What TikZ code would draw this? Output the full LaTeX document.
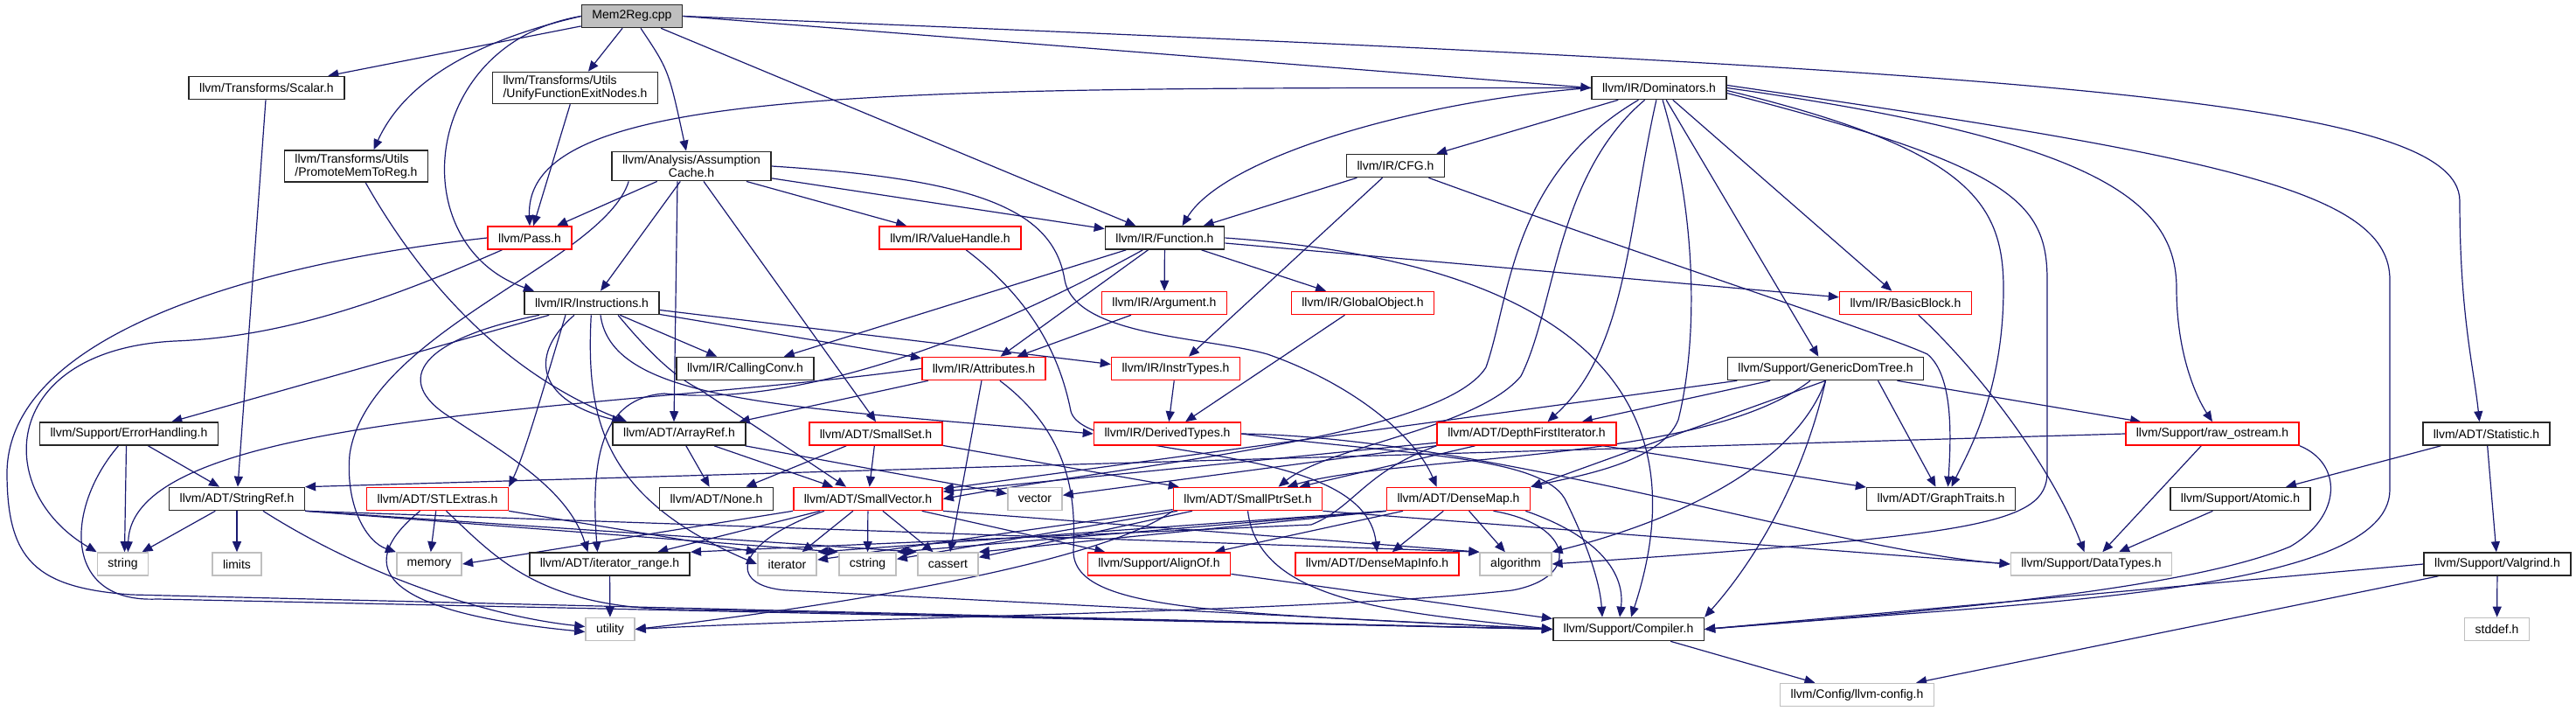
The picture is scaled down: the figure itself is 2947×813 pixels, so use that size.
\documentclass[tikz,border=0pt]{standalone}
\usepackage{fontspec}
\setmainfont{Liberation Sans}
\usetikzlibrary{arrows.meta}
\definecolor{edgeblue}{RGB}{25,25,112}
\definecolor{greyframe}{RGB}{191,191,191}
\pgfdeclarelayer{edges}
\pgfsetlayers{edges,main}

\begin{document}
\begin{tikzpicture}[x=1pt, y=-1pt, >={Triangle[length=12pt,width=10pt]},
    hdr/.style={draw=black!85, line width=1.6pt, fill=white, minimum height=26pt,
      inner xsep=12pt, inner ysep=4pt, font=\fontsize{14}{15}\selectfont},
    redhdr/.style={hdr, draw=red},
    syshdr/.style={hdr, draw=greyframe},
    srcfile/.style={hdr, fill=black!25},
    dep/.style={->, draw=edgeblue, line width=1.2pt}]
    \useasboundingbox (0,0) rectangle (2947,813);

    \node[srcfile] (mem2reg) at (723,18.5) {Mem2Reg.cpp};
    \node[hdr] (scalar) at (305,100.5) {llvm/Transforms/Scalar.h};
    \node[hdr, align=left] (unify) at (658,100.5) {llvm/Transforms/Utils\\/UnifyFunctionExitNodes.h};
    \node[hdr, align=left] (promote) at (407.5,190) {llvm/Transforms/Utils\\/PromoteMemToReg.h};
    \node[hdr, align=center] (assump) at (791,190) {llvm/Analysis/Assumption\\Cache.h};
    \node[redhdr] (pass) at (606,272) {llvm/Pass.h};
    \node[redhdr] (valuehandle) at (1087,272) {llvm/IR/ValueHandle.h};
    \node[hdr] (function) at (1332.5,272) {llvm/IR/Function.h};
    \node[hdr] (dominators) at (1898,100.5) {llvm/IR/Dominators.h};
    \node[hdr] (cfg) at (1596.5,189.5) {llvm/IR/CFG.h};
    \node[hdr] (statistic) at (2844.5,496) {llvm/ADT/Statistic.h};
    \node[hdr] (instructions) at (677,346.5) {llvm/IR/Instructions.h};
    \node[hdr] (errorhandling) at (147.5,496) {llvm/Support/ErrorHandling.h};
    \node[hdr] (arrayref) at (777,496) {llvm/ADT/ArrayRef.h};
    \node[redhdr] (argument) at (1332,346.5) {llvm/IR/Argument.h};
    \node[hdr] (callingconv) at (852.5,421.5) {llvm/IR/CallingConv.h};
    \node[redhdr] (attributes) at (1125.5,421.5) {llvm/IR/Attributes.h};
    \node[redhdr] (instrtypes) at (1345,421.5) {llvm/IR/InstrTypes.h};
    \node[redhdr] (smallset) at (1002,496) {llvm/ADT/SmallSet.h};
    \node[redhdr] (derivedtypes) at (1335.5,496) {llvm/IR/DerivedTypes.h};
    \node[redhdr] (globalobject) at (1559,346.5) {llvm/IR/GlobalObject.h};
    \node[redhdr] (basicblock) at (2180,346.5) {llvm/IR/BasicBlock.h};
    \node[hdr] (genericdomtree) at (2088.5,421.5) {llvm/Support/GenericDomTree.h};
    \node[redhdr] (depthfirst) at (1746.5,496) {llvm/ADT/DepthFirstIterator.h};
    \node[redhdr] (rawostream) at (2531,496) {llvm/Support/raw\_ostream.h};
    \node[hdr] (stringref) at (271,570.5) {llvm/ADT/StringRef.h};
    \node[redhdr] (stlextras) at (500.5,570.5) {llvm/ADT/STLExtras.h};
    \node[syshdr] (string) at (140.5,645) {string};
    \node[syshdr] (limits) at (271,645) {limits};
    \node[syshdr] (memory) at (491,645) {memory};
    \node[hdr] (iteratorrange) at (697.5,645) {llvm/ADT/iterator\_range.h};
    \node[syshdr] (utility) at (698,719.5) {utility};
    \node[hdr] (none) at (819.5,570.5) {llvm/ADT/None.h};
    \node[redhdr] (smallvector) at (993,570.5) {llvm/ADT/SmallVector.h};
    \node[syshdr] (vector) at (1184,570.5) {vector};
    \node[redhdr] (smallptrset) at (1427.5,570.5) {llvm/ADT/SmallPtrSet.h};
    \node[syshdr] (iterator) at (900.5,645) {iterator};
    \node[syshdr] (cstring) at (992.5,645) {cstring};
    \node[syshdr] (cassert) at (1084.5,645) {cassert};
    \node[redhdr] (alignof) at (1326,645) {llvm/Support/AlignOf.h};
    \node[redhdr] (densemap) at (1668.5,570.5) {llvm/ADT/DenseMap.h};
    \node[redhdr] (densemapinfo) at (1575.5,645) {llvm/ADT/DenseMapInfo.h};
    \node[syshdr] (algorithm) at (1734,645) {algorithm};
    \node[hdr] (compiler) at (1863,719.5) {llvm/Support/Compiler.h};
    \node[syshdr] (llvmconfig) at (2124.5,794.5) {llvm/Config/llvm-config.h};
    \node[hdr] (graphtraits) at (2220.5,570.5) {llvm/ADT/GraphTraits.h};
    \node[syshdr] (datatypes) at (2392.5,645) {llvm/Support/DataTypes.h};
    \node[hdr] (atomic) at (2563,570.5) {llvm/Support/Atomic.h};
    \node[hdr] (valgrind) at (2857,645) {llvm/Support/Valgrind.h};
    \node[syshdr] (stddef) at (2856.5,719.5) {stddef.h};

    \begin{pgfonlayer}{edges}
    \draw[dep] (mem2reg) -- (scalar);
    \draw[dep] (mem2reg) -- (unify);
    \draw[dep] (mem2reg.west) .. controls (530,50) and (460,100) .. ([xshift=20pt]promote.north);
    \draw[dep] ([xshift=10pt]mem2reg.south) .. controls (765,80) .. ([xshift=-6pt]assump.north);
    \draw[dep] (mem2reg.west) .. controls (480,50) and (460,280) .. ([xshift=-66pt]instructions.north);
    \draw[dep] (mem2reg) -- (function);
    \draw[dep] (mem2reg.east) -- (dominators.west);
    \draw[dep] (mem2reg.east) .. controls (2300,80) and (2814,110) .. (2814,230) .. controls (2814,360) and (2830,420) .. ([xshift=-8pt]statistic.north);

    \draw[dep] (scalar) -- (stringref);
    \draw[dep] (unify) -- (pass);
    \draw[dep] (promote) .. controls (470,300) and (560,420) .. ([xshift=-60pt]arrayref.north);

    \draw[dep] (assump) -- (pass);
    \draw[dep] (assump) -- (instructions);
    \draw[dep] ([xshift=-16pt]assump.south) -- ([xshift=-6pt]arrayref.north);
    \draw[dep] ([xshift=14pt]assump.south) -- (smallset.north);
    \draw[dep] (assump) -- (valuehandle);
    \draw[dep] (assump) -- (function);
    \draw[dep] ([xshift=20pt]assump.south west) .. controls (690,300) and (420,380) .. (400,520) .. controls (395,580) and (420,620) .. (memory.north west);
    \draw[dep] (assump.east) .. controls (1120,205) and (1205,240) .. (1218,320) .. controls (1230,385) and (1380,385) .. (1450,405) .. controls (1550,440) and (1620,500) .. ([xshift=-25pt]densemap.north);

    \draw[dep] (pass) .. controls (450,340) and (330,385) .. (200,390) .. controls (0,400) and (-10,560) .. (string.north west);
    \draw[dep] (pass.west) .. controls (300,300) and (10,380) .. (8,540) .. controls (8,640) and (40,672) .. (150,680) -- (compiler.west);

    \draw[dep] (valuehandle) .. controls (1190,350) and (1215,420) .. (1225,470) .. controls (1240,530) and (1560,500) .. (densemapinfo.north);

    \draw[dep] (function) -- (argument);
    \draw[dep] (function) -- (globalobject);
    \draw[dep] (function) -- (basicblock);
    \draw[dep] (function) -- (callingconv);
    \draw[dep] (function) -- (attributes);
    \draw[dep] (function) .. controls (1100,400) and (900,465) .. (760,450) .. controls (690,455) and (675,520) .. ([xshift=-14pt]iteratorrange.north);
    \draw[dep] (function.east) .. controls (1800,300) and (1950,450) .. ([xshift=3pt]compiler.north);

    \draw[dep] (argument) -- (attributes);
    \draw[dep] (globalobject) -- (derivedtypes);
    \draw[dep] (instrtypes) -- (derivedtypes);

    \draw[dep] (attributes) -- ([xshift=-8pt]arrayref.north east);
    \draw[dep] (attributes.west) .. controls (700,470) and (150,470) .. ([xshift=6pt]string.north);
    \draw[dep] (attributes) -- (cassert);
    \draw[dep] (attributes) .. controls (1230,500) and (1230,580) .. (1228,630) .. controls (1228,700) and (1400,700) .. (compiler.west);

    \draw[dep] (instructions) -- (errorhandling);
    \draw[dep] ([xshift=-20pt]instructions.south) .. controls (600,410) and (620,460) .. ([xshift=-65pt]arrayref.north);
    \draw[dep] (instructions) -- (callingconv);
    \draw[dep] (instructions) -- (attributes);
    \draw[dep] ([yshift=-8pt]instructions.east) -- ([yshift=5pt]instrtypes.west);
    \draw[dep] ([xshift=10pt]instructions.south) .. controls (700,460) and (900,465) .. (derivedtypes.west);
    \draw[dep] ([xshift=30pt]instructions.south) .. controls (740,400) and (770,430) .. (800,445) -- ([xshift=-25pt]smallvector.north);
    \draw[dep] (instructions) .. controls (670,480) and (690,570) .. (iterator.west);
    \draw[dep] ([xshift=-30pt]instructions.south) .. controls (620,450) and (600,520) .. (stlextras.north east);
    \draw[dep] ([xshift=-60pt]instructions.south) .. controls (470,390) and (450,440) .. (520,480) .. controls (580,520) and (650,560) .. ([xshift=-25pt]iteratorrange.north);

    \draw[dep] ([xshift=22pt]errorhandling.south) -- ([xshift=-20pt]stringref.north);
    \draw[dep] ([xshift=-3pt]errorhandling.south) -- ([xshift=2pt]string.north);
    \draw[dep] ([xshift=-12pt]errorhandling.south) .. controls (75,580) and (70,690) .. (180,685) -- (compiler.west);

    \draw[dep] (stringref) -- ([xshift=22pt]string.north);
    \draw[dep] (stringref) -- (limits);
    \draw[dep] ([xshift=30pt]stringref.south) .. controls (420,660) and (560,705) .. ([yshift=3pt]utility.west);
    \draw[dep] (stringref.south east) -- (cstring.north west);
    \draw[dep] (stringref.south east) -- (cassert.north west);
    \draw[dep] (stringref.south east) -- (algorithm.north west);

    \draw[dep] (stlextras) -- (memory);
    \draw[dep] ([xshift=-20pt]stlextras.south) .. controls (400,650) and (440,700) .. ([yshift=-3pt]utility.west);
    \draw[dep] (stlextras.south east) -- (iterator.north west);
    \draw[dep] ([xshift=10pt]stlextras.south) .. controls (570,640) and (620,700) .. (800,697) -- (compiler.west);
    \draw[dep] (iteratorrange) -- (utility);

    \draw[dep] (arrayref) -- (none);
    \draw[dep] (arrayref) -- (smallvector);
    \draw[dep] (arrayref) -- (vector);
    \draw[dep] (smallset) -- (none);
    \draw[dep] (smallset) -- (smallvector);
    \draw[dep] (smallset) -- (smallptrset);

    \draw[dep] (smallvector.south west) -- (memory.east);
    \draw[dep] (smallvector) -- (iteratorrange);
    \draw[dep] (smallvector) -- (iterator);
    \draw[dep] (smallvector) -- (cstring);
    \draw[dep] (smallvector) -- (cassert);
    \draw[dep] (smallvector) -- (alignof);
    \draw[dep] (smallvector.south east) -- (algorithm.north west);
    \draw[dep] ([xshift=-50pt]smallvector.south) .. controls (840,620) and (830,670) .. (900,675) -- (compiler.west);

    \draw[dep] (smallptrset.south) .. controls (1440,690) and (1600,700) .. (compiler.west);
    \draw[dep] (smallptrset.south east) -- (datatypes.west);
    \draw[dep] (smallptrset) -- (iterator);
    \draw[dep] (smallptrset) -- (cstring);
    \draw[dep] (smallptrset) -- (cassert);
    \draw[dep] (smallptrset.south west) .. controls (1250,650) and (900,700) .. (utility.east);

    \draw[dep] (densemap) -- (densemapinfo);
    \draw[dep] (densemap) -- (algorithm);
    \draw[dep] (densemap) -- (alignof);
    \draw[dep] ([xshift=-6pt]densemap.south east) .. controls (1820,610) and (1860,650) .. ([xshift=-10pt]compiler.north);
    \draw[dep] (densemap.south west) -- (iterator.north east);
    \draw[dep] (densemap.south west) -- (cstring.north east);
    \draw[dep] (densemap.south west) -- (cassert.north east);
    \draw[dep] ([xshift=40pt]densemap.south) .. controls (1800,600) and (1810,660) .. (1730,675) .. controls (1500,700) and (1000,705) .. (utility.east);
    \draw[dep] (alignof) -- (compiler);

    \draw[dep] (derivedtypes.east) .. controls (1600,520) and (1760,520) .. (1790,570) .. controls (1810,610) and (1830,660) .. ([xshift=-30pt]compiler.north);
    \draw[dep] (derivedtypes.east) .. controls (1700,500) and (2100,630) .. (datatypes.west);

    \draw[dep] (dominators.west) .. controls (1000,100) and (600,100) .. (pass.north);
    \draw[dep] (dominators.west) .. controls (1620,115) and (1400,180) .. ([xshift=20pt]function.north);
    \draw[dep] (dominators) -- (cfg);
    \draw[dep] (dominators) .. controls (1728,200) and (1728,340) .. (1700,420) .. controls (1650,500) and (1300,530) .. (smallvector.east);
    \draw[dep] (dominators) .. controls (1780,200) and (1780,350) .. (1740,430) .. controls (1690,490) and (1520,510) .. ([xshift=35pt]smallptrset.north);
    \draw[dep] (dominators) .. controls (1862,260) and (1862,400) .. ([xshift=24pt]depthfirst.north);
    \draw[dep] (dominators) .. controls (1945,260) and (1940,400) .. (1920,480) .. controls (1900,530) and (1800,545) .. (densemap.north east);
    \draw[dep] (dominators) -- (genericdomtree);
    \draw[dep] (dominators) -- (basicblock);
    \draw[dep] (dominators.east) .. controls (2400,160) and (2490,230) .. (2490,330) .. controls (2490,400) and (2510,450) .. (rawostream.north);
    \draw[dep] ([yshift=-3pt]dominators.east) .. controls (2250,170) and (2292,230) .. (2292,330) .. controls (2292,450) and (2250,520) .. ([xshift=12pt]graphtraits.north);
    \draw[dep] ([yshift=-6pt]dominators.east) .. controls (2300,190) and (2342,230) .. (2342,320) -- (2342,540) .. controls (2342,600) and (2260,612) .. (algorithm.east);
    \draw[dep] ([yshift=3pt]dominators.east) .. controls (2550,180) and (2734,220) .. (2734,320) -- (2734,560) .. controls (2734,680) and (2300,690) .. (compiler.east);

    \draw[dep] (cfg) -- (function);
    \draw[dep] (cfg) -- (instrtypes);
    \draw[dep] (cfg) .. controls (1900,300) and (2150,380) .. (2205,405) .. controls (2235,430) and (2232,500) .. ([xshift=8pt]graphtraits.north);

    \draw[dep] (genericdomtree) -- (depthfirst);
    \draw[dep] ([xshift=60pt]genericdomtree.south) -- ([xshift=-6pt]graphtraits.north);
    \draw[dep] (genericdomtree) -- (rawostream);
    \draw[dep] (genericdomtree.south) -- (densemap.north east);
    \draw[dep] (genericdomtree) .. controls (1950,530) and (1600,520) .. ([xshift=45pt]smallptrset.north);
    \draw[dep] (genericdomtree) -- (smallvector);
    \draw[dep] (genericdomtree.south) .. controls (2060,560) and (2000,650) .. (compiler.north east);
    \draw[dep] (genericdomtree.south) .. controls (2050,540) and (1900,600) .. (algorithm.north east);

    \draw[dep] (depthfirst) -- (graphtraits);
    \draw[dep] (depthfirst) -- (smallptrset);
    \draw[dep] (depthfirst) -- (smallvector);
    \draw[dep] (depthfirst.south west) .. controls (1560,540) and (1550,580) .. (1500,600) -- (iteratorrange.north east);
    \draw[dep] (depthfirst) -- (vector);

    \draw[dep] (basicblock) .. controls (2270,430) and (2350,540) .. ([xshift=-8pt]datatypes.north);
    \draw[dep] (rawostream.west) -- (stringref.north east);
    \draw[dep] (rawostream) -- (datatypes);
    \draw[dep] (rawostream.south east) .. controls (2680,530) and (2680,590) .. (2620,625) .. controls (2500,675) and (2200,700) .. (compiler.east);

    \draw[dep] (statistic) -- (atomic);
    \draw[dep] (statistic) -- (valgrind);
    \draw[dep] (atomic) -- (datatypes);
    \draw[dep] (valgrind) -- (stddef);
    \draw[dep] (valgrind.west) -- (compiler.east);
    \draw[dep] (valgrind) -- (llvmconfig);
    \draw[dep] (compiler) -- (llvmconfig);
    \end{pgfonlayer}
\end{tikzpicture}
\end{document}
